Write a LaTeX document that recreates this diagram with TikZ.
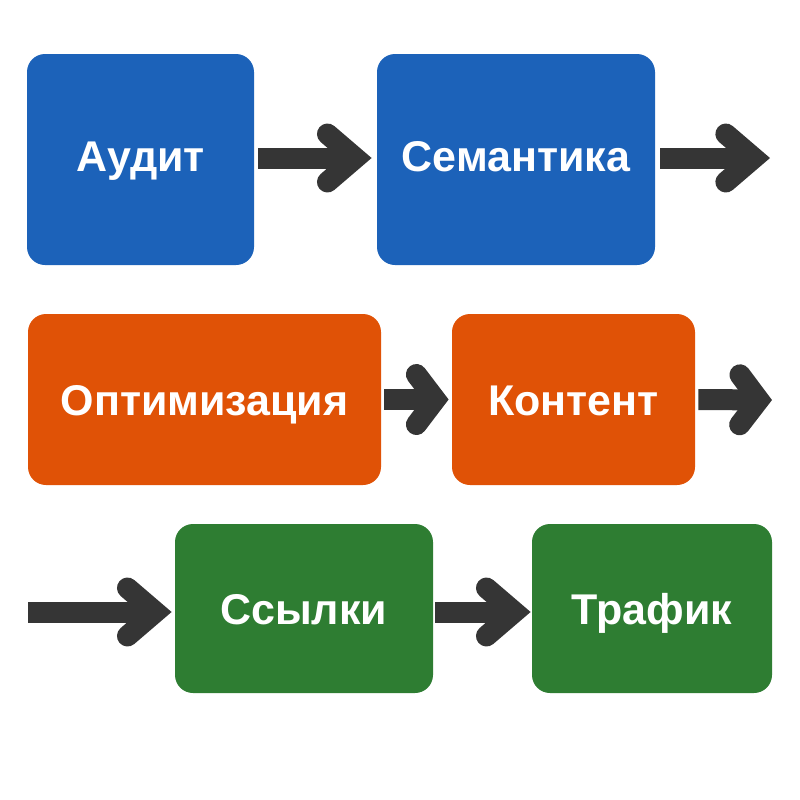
\documentclass[tikz,border=0pt]{standalone}
\usepackage{fontspec}
\setmainfont{Liberation Sans}
\usetikzlibrary{arrows.meta}
\definecolor{cblue}{HTML}{1C62B9}
\definecolor{corange}{HTML}{E05206}
\definecolor{cgreen}{HTML}{2E7D32}
\definecolor{carrow}{HTML}{353535}
\begin{document}
\begin{tikzpicture}[x=0.5pt,y=-0.5pt,
  box/.style={rounded corners=9pt, inner sep=0pt, text=white,
    font=\bfseries\fontsize{21.5}{24}\selectfont},
  bluebox/.style={box, fill=cblue, minimum height=105.5pt, text height=14pt, text depth=2pt},
  orangebox/.style={box, fill=corange, minimum height=85.5pt, text height=16pt, text depth=0.5pt},
  greenbox/.style={box, fill=cgreen, minimum height=84.5pt, text height=16pt, text depth=0.5pt},
  arr/.style={draw=carrow, line width=10.5pt,
    -{Straight Barb[length=14pt, width=24pt, line cap=round, line join=miter]}},
  arrs/.style={draw=carrow, line width=10.5pt,
    -{Straight Barb[length=9.5pt, width=25pt, line cap=round, line join=miter]}}
]
\useasboundingbox (0,0) rectangle (800,800);
\node[bluebox, minimum width=113.5pt] (audit) at (140.5,159.5) {Аудит};
\node[bluebox, minimum width=139pt] (sem) at (516,159.5) {Семантика};
\node[orangebox, minimum width=176.5pt] (opt) at (204.5,399.5) {Оптимизация};
\node[orangebox, minimum width=121.5pt] (kont) at (573.5,399.5) {Контент};
\node[greenbox, minimum width=129pt] (ssyl) at (304,608.5) {Ссылки};
\node[greenbox, minimum width=120pt] (traf) at (652,608.5) {Трафик};
\coordinate (e1) at (770,158);
\coordinate (e2) at (772,400);
\coordinate (s3) at (28,612);
\draw[arr, shorten <=2pt, shorten >=2.5pt] (audit.east |- e1) -- (sem.west |- e1);
\draw[arr, shorten <=2.5pt] (sem.east |- e1) -- (e1);
\draw[arrs, shorten <=1.5pt, shorten >=1.5pt] (opt) -- (kont);
\draw[arrs, shorten <=1.5pt] (kont.east) -- (e2);
\draw[arr, shorten >=1.5pt] (s3) -- (s3 -| ssyl.west);
\draw[arr, shorten <=1pt, shorten >=0.5pt] (ssyl.east |- s3) -- (traf.west |- s3);
\end{tikzpicture}
\end{document}
